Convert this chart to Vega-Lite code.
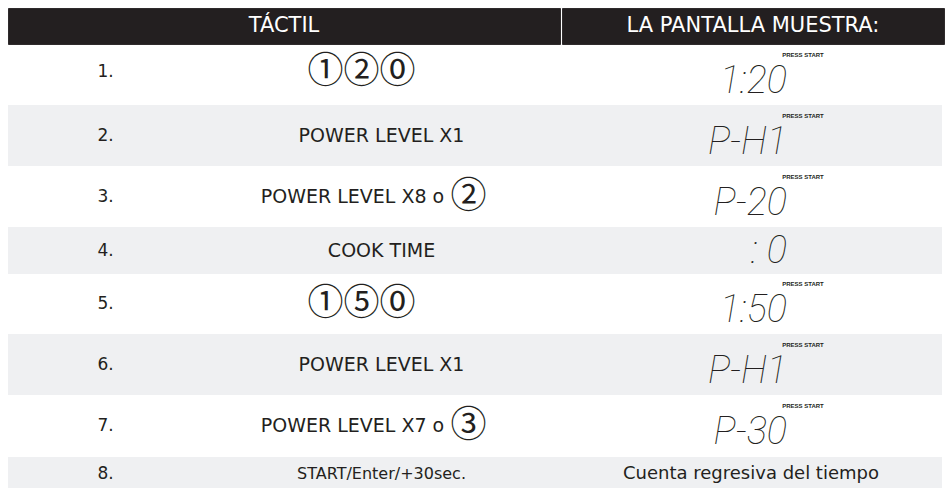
{
  "$schema": "https://vega.github.io/schema/vega-lite/v6.json",
  "padding": {"left": 7, "top": 7, "right": 0, "bottom": 0},
  "autosize": {"type": "pad"},
  "background": "#ffffff",
  "spacing": 0,
  "datasets": {
    "steps": [
      {"n": 1, "step": "1.", "touch": "①②⓪", "key": "", "display": "1:20", "prompt": "PRESS START"},
      {"n": 2, "step": "2.", "touch": "POWER LEVEL X1", "key": "", "display": "P-H1", "prompt": "PRESS START"},
      {"n": 3, "step": "3.", "touch": "POWER LEVEL X8 o", "key": "②", "display": "P-20", "prompt": "PRESS START"},
      {"n": 4, "step": "4.", "touch": "COOK TIME", "key": "", "display": ": 0", "prompt": ""},
      {"n": 5, "step": "5.", "touch": "①⑤⓪", "key": "", "display": "1:50", "prompt": "PRESS START"},
      {"n": 6, "step": "6.", "touch": "POWER LEVEL X1", "key": "", "display": "P-H1", "prompt": "PRESS START"},
      {"n": 7, "step": "7.", "touch": "POWER LEVEL X7 o", "key": "③", "display": "P-30", "prompt": "PRESS START"},
      {"n": 8, "step": "8.", "touch": "START/Enter/+30sec.", "key": "", "display": "Cuenta regresiva del tiempo", "prompt": ""}
    ],
    "header": [
      {"col": "touch", "label": "TÁCTIL"},
      {"col": "display", "label": "LA PANTALLA MUESTRA:"}
    ]
  },
  "data": {"name": "steps"},
  "config": {
    "view": {"stroke": "#d3d5d7", "strokeWidth": 1.5},
    "text": {"font": "DejaVu Sans", "fontSize": 19, "color": "#231f20"}
  },
  "vconcat": [
    {"hconcat": [
      {"width": 552, "height": 36, "data": {"name": "header"}, "view": {"fill": "#231f20", "stroke": "#2f2b2c"}, "transform": [{"filter": "datum.col == 'touch'"}], "mark": {"type": "text", "color": "#ffffff", "fontSize": 21}, "encoding": {"text": {"field": "label"}}},
      {"width": 382, "height": 36, "data": {"name": "header"}, "view": {"fill": "#231f20", "stroke": "#2f2b2c"}, "transform": [{"filter": "datum.col == 'display'"}], "mark": {"type": "text", "color": "#ffffff", "fontSize": 21}, "encoding": {"text": {"field": "label"}}}
    ], "spacing": 0},
    {"hconcat": [
      {"width": 195, "height": 60, "view": {"fill": "#ffffff"}, "transform": [{"filter": "datum.n == 1"}], "mark": {"type": "text", "fontSize": 17, "dy": -3}, "encoding": {"text": {"field": "step"}}},
      {"width": 357, "height": 60, "view": {"fill": "#ffffff"}, "transform": [{"filter": "datum.n == 1"}], "mark": {"type": "text", "font": "Noto Sans CJK JP", "fontSize": 36, "dx": -20, "dy": -3}, "encoding": {"text": {"field": "touch"}}},
      {"width": 382, "height": 60, "view": {"fill": "#ffffff"}, "transform": [{"filter": "datum.n == 1"}], "layer": [
        {"mark": {"type": "text", "font": "Roboto", "fontWeight": 100, "fontStyle": "italic", "fontSize": 38, "align": "right", "dx": 36, "dy": 7}, "encoding": {"text": {"field": "display"}}},
        {"mark": {"type": "text", "font": "Liberation Sans Narrow, Liberation Sans", "fontWeight": "bold", "fontSize": 6, "dx": 52, "dy": -20}, "encoding": {"text": {"field": "prompt"}}}
      ]}
    ], "spacing": 0},
    {"hconcat": [
      {"width": 195, "height": 61, "view": {"fill": "#eff0f2"}, "transform": [{"filter": "datum.n == 2"}], "mark": {"type": "text", "fontSize": 17}, "encoding": {"text": {"field": "step"}}},
      {"width": 357, "height": 61, "view": {"fill": "#eff0f2"}, "transform": [{"filter": "datum.n == 2"}], "mark": {"type": "text"}, "encoding": {"text": {"field": "touch"}}},
      {"width": 382, "height": 61, "view": {"fill": "#eff0f2"}, "transform": [{"filter": "datum.n == 2"}], "layer": [
        {"mark": {"type": "text", "font": "Roboto", "fontWeight": 100, "fontStyle": "italic", "fontSize": 38, "align": "right", "dx": 36, "dy": 7}, "encoding": {"text": {"field": "display"}}},
        {"mark": {"type": "text", "font": "Liberation Sans Narrow, Liberation Sans", "fontWeight": "bold", "fontSize": 6, "dx": 52, "dy": -20}, "encoding": {"text": {"field": "prompt"}}}
      ]}
    ], "spacing": 0},
    {"hconcat": [
      {"width": 195, "height": 61, "view": {"fill": "#ffffff"}, "transform": [{"filter": "datum.n == 3"}], "mark": {"type": "text", "fontSize": 17}, "encoding": {"text": {"field": "step"}}},
      {"width": 357, "height": 61, "view": {"fill": "#ffffff"}, "transform": [{"filter": "datum.n == 3"}], "layer": [
        {"mark": {"type": "text", "dx": -29}, "encoding": {"text": {"field": "touch"}}},
        {"mark": {"type": "text", "font": "Noto Sans CJK JP", "fontSize": 36, "dx": 87}, "encoding": {"text": {"field": "key"}}}
      ]},
      {"width": 382, "height": 61, "view": {"fill": "#ffffff"}, "transform": [{"filter": "datum.n == 3"}], "layer": [
        {"mark": {"type": "text", "font": "Roboto", "fontWeight": 100, "fontStyle": "italic", "fontSize": 38, "align": "right", "dx": 36, "dy": 7}, "encoding": {"text": {"field": "display"}}},
        {"mark": {"type": "text", "font": "Liberation Sans Narrow, Liberation Sans", "fontWeight": "bold", "fontSize": 6, "dx": 52, "dy": -20}, "encoding": {"text": {"field": "prompt"}}}
      ]}
    ], "spacing": 0},
    {"hconcat": [
      {"width": 195, "height": 47, "view": {"fill": "#eff0f2"}, "transform": [{"filter": "datum.n == 4"}], "mark": {"type": "text", "fontSize": 17}, "encoding": {"text": {"field": "step"}}},
      {"width": 357, "height": 47, "view": {"fill": "#eff0f2"}, "transform": [{"filter": "datum.n == 4"}], "mark": {"type": "text"}, "encoding": {"text": {"field": "touch"}}},
      {"width": 382, "height": 47, "view": {"fill": "#eff0f2"}, "transform": [{"filter": "datum.n == 4"}], "mark": {"type": "text", "font": "Roboto", "fontWeight": 100, "fontStyle": "italic", "fontSize": 38, "align": "right", "dx": 36, "dy": 1}, "encoding": {"text": {"field": "display"}}}
    ], "spacing": 0},
    {"hconcat": [
      {"width": 195, "height": 60, "view": {"fill": "#ffffff"}, "transform": [{"filter": "datum.n == 5"}], "mark": {"type": "text", "fontSize": 17}, "encoding": {"text": {"field": "step"}}},
      {"width": 357, "height": 60, "view": {"fill": "#ffffff"}, "transform": [{"filter": "datum.n == 5"}], "mark": {"type": "text", "font": "Noto Sans CJK JP", "fontSize": 36, "dx": -20}, "encoding": {"text": {"field": "touch"}}},
      {"width": 382, "height": 60, "view": {"fill": "#ffffff"}, "transform": [{"filter": "datum.n == 5"}], "layer": [
        {"mark": {"type": "text", "font": "Roboto", "fontWeight": 100, "fontStyle": "italic", "fontSize": 38, "align": "right", "dx": 36, "dy": 7}, "encoding": {"text": {"field": "display"}}},
        {"mark": {"type": "text", "font": "Liberation Sans Narrow, Liberation Sans", "fontWeight": "bold", "fontSize": 6, "dx": 52, "dy": -20}, "encoding": {"text": {"field": "prompt"}}}
      ]}
    ], "spacing": 0},
    {"hconcat": [
      {"width": 195, "height": 61, "view": {"fill": "#eff0f2"}, "transform": [{"filter": "datum.n == 6"}], "mark": {"type": "text", "fontSize": 17}, "encoding": {"text": {"field": "step"}}},
      {"width": 357, "height": 61, "view": {"fill": "#eff0f2"}, "transform": [{"filter": "datum.n == 6"}], "mark": {"type": "text"}, "encoding": {"text": {"field": "touch"}}},
      {"width": 382, "height": 61, "view": {"fill": "#eff0f2"}, "transform": [{"filter": "datum.n == 6"}], "layer": [
        {"mark": {"type": "text", "font": "Roboto", "fontWeight": 100, "fontStyle": "italic", "fontSize": 38, "align": "right", "dx": 36, "dy": 7}, "encoding": {"text": {"field": "display"}}},
        {"mark": {"type": "text", "font": "Liberation Sans Narrow, Liberation Sans", "fontWeight": "bold", "fontSize": 6, "dx": 52, "dy": -20}, "encoding": {"text": {"field": "prompt"}}}
      ]}
    ], "spacing": 0},
    {"hconcat": [
      {"width": 195, "height": 62, "view": {"fill": "#ffffff"}, "transform": [{"filter": "datum.n == 7"}], "mark": {"type": "text", "fontSize": 17}, "encoding": {"text": {"field": "step"}}},
      {"width": 357, "height": 62, "view": {"fill": "#ffffff"}, "transform": [{"filter": "datum.n == 7"}], "layer": [
        {"mark": {"type": "text", "dx": -29}, "encoding": {"text": {"field": "touch"}}},
        {"mark": {"type": "text", "font": "Noto Sans CJK JP", "fontSize": 36, "dx": 87}, "encoding": {"text": {"field": "key"}}}
      ]},
      {"width": 382, "height": 62, "view": {"fill": "#ffffff"}, "transform": [{"filter": "datum.n == 7"}], "layer": [
        {"mark": {"type": "text", "font": "Roboto", "fontWeight": 100, "fontStyle": "italic", "fontSize": 38, "align": "right", "dx": 36, "dy": 7}, "encoding": {"text": {"field": "display"}}},
        {"mark": {"type": "text", "font": "Liberation Sans Narrow, Liberation Sans", "fontWeight": "bold", "fontSize": 6, "dx": 52, "dy": -20}, "encoding": {"text": {"field": "prompt"}}}
      ]}
    ], "spacing": 0},
    {"hconcat": [
      {"width": 195, "height": 33, "view": {"fill": "#eff0f2"}, "transform": [{"filter": "datum.n == 8"}], "mark": {"type": "text", "fontSize": 17}, "encoding": {"text": {"field": "step"}}},
      {"width": 357, "height": 33, "view": {"fill": "#eff0f2"}, "transform": [{"filter": "datum.n == 8"}], "mark": {"type": "text", "fontSize": 16}, "encoding": {"text": {"field": "touch"}}},
      {"width": 382, "height": 33, "view": {"fill": "#eff0f2"}, "transform": [{"filter": "datum.n == 8"}], "mark": {"type": "text", "fontSize": 18}, "encoding": {"text": {"field": "display"}}}
    ], "spacing": 0}
  ]
}
